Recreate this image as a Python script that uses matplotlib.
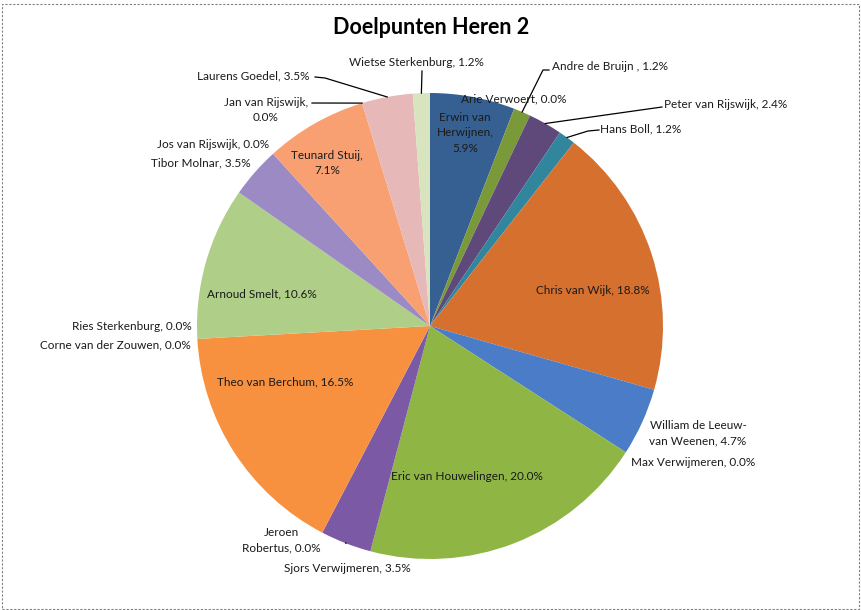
import numpy as np
import matplotlib
matplotlib.use("Agg")
import matplotlib.pyplot as plt
from matplotlib.patches import Rectangle

plt.rcParams['font.family'] = ['Lato', 'DejaVu Sans']

W, H = 861, 610

# spelers in volgorde (met de klok mee vanaf 12 uur) en aantal doelpunten
players = ["Erwin van Herwijnen", "Arie Verwoert", "Andre de Bruijn ", "Peter van Rijswijk",
           "Hans Boll", "Chris van Wijk", "William de Leeuw-van Weenen", "Max Verwijmeren",
           "Eric van Houwelingen", "Sjors Verwijmeren", "Jeroen Robertus", "Theo van Berchum",
           "Corne van der Zouwen", "Ries Sterkenburg", "Arnoud Smelt", "Tibor Molnar",
           "Jos van Rijswijk", "Teunard Stuij", "Jan van Rijswijk", "Laurens Goedel",
           "Wietse Sterkenburg"]
goals = [5, 0, 1, 2, 1, 16, 4, 0, 17, 3, 0, 14, 0, 0, 9, 3, 0, 6, 0, 3, 1]

colors = ["#376092", "#953735", "#7A9A3A", "#5F497A", "#31859C", "#D6702F",
          "#4A7CC8", "#C0504D", "#8FB545", "#7C59A4", "#4BACC6", "#F7913F",
          "#95B3D7", "#D99694", "#AFCF88", "#9C8AC4", "#93CDDD", "#F9A073",
          "#B9CDE5", "#E6B9B8", "#D7E4BD"]

# label text with line breaks as in the original
label_names = {
    "Erwin van Herwijnen": "Erwin van\nHerwijnen,\n",
    "Teunard Stuij": "Teunard Stuij,\n",
    "William de Leeuw-van Weenen": "William de Leeuw-\nvan Weenen, ",
    "Jan van Rijswijk": "Jan van Rijswijk,\n",
    "Jeroen Robertus": "Jeroen\nRobertus, ",
}
# label centre in pixels (x, y)
label_pos = {
    "Erwin van Herwijnen": (465, 133), "Arie Verwoert": (514, 99),
    "Andre de Bruijn ": (610, 67), "Peter van Rijswijk": (726, 104),
    "Hans Boll": (641, 129), "Chris van Wijk": (593, 291),
    "William de Leeuw-van Weenen": (698, 433), "Max Verwijmeren": (693, 462),
    "Eric van Houwelingen": (467, 477), "Sjors Verwijmeren": (347, 569),
    "Jeroen Robertus": (281, 540), "Theo van Berchum": (285, 382),
    "Corne van der Zouwen": (115, 345), "Ries Sterkenburg": (132, 326),
    "Arnoud Smelt": (262, 294), "Tibor Molnar": (201, 163),
    "Jos van Rijswijk": (213, 144), "Teunard Stuij": (327, 163),
    "Jan van Rijswijk": (266, 110), "Laurens Goedel": (253, 76),
    "Wietse Sterkenburg": (416, 63),
}
# leader lines: start point near label (pixels), optional elbow, end on the pie
leaders = {
    "Wietse Sterkenburg": [(422, 71)],
    "Laurens Goedel": [(315, 77), (325, 78)],
    "Jan van Rijswijk": [(312, 103)],
    "Andre de Bruijn ": [(549, 70), (543, 70)],
    "Peter van Rijswijk": [(662, 107)],
    "Hans Boll": [(599, 130), (588, 131)],
    "Sjors Verwijmeren": [(346, 543)],
}

cx, cy, R = 430, 326, 233


def P(px, py):
    return px, H - py


fig = plt.figure(figsize=(W / 100, H / 100), dpi=100)
ax = fig.add_axes([0, 0, 1, 1])
wedges, _ = ax.pie(goals, colors=colors, startangle=90, counterclock=False,
                   center=P(cx, cy), radius=R, wedgeprops=dict(linewidth=0))
ax.set_xlim(0, W)
ax.set_ylim(0, H)
ax.set_aspect('equal')
ax.axis('off')

total = sum(goals)
for name, g, w in zip(players, goals, wedges):
    pct = 100 * g / total
    txt = label_names.get(name, name + ", ") + f"{pct:.1f}%"
    x, y = label_pos[name]
    ax.text(*P(x, y), txt, ha='center', va='center', fontsize=8.5,
            color='#1a1a1a', linespacing=1.45)
    if name in leaders:
        mid = np.deg2rad((w.theta1 + w.theta2) / 2)
        end = (cx + R * np.cos(mid), cy - R * np.sin(mid))
        pts = leaders[name] + [end]
        ax.plot([p[0] for p in pts], [H - p[1] for p in pts], color='black', lw=0.9)

ax.text(*P(431, 27), "Doelpunten Heren 2", ha='center', va='center',
        fontsize=15.5, fontweight='bold', color='black')

fig.patches.append(Rectangle((1.5 / W, 1.5 / H), (W - 4) / W, (H - 5) / H,
                             transform=fig.transFigure, fill=False,
                             edgecolor='#808080', lw=0.8, linestyle=(0, (2, 1.5))))

fig.savefig("out.png", dpi=100, facecolor='white')
